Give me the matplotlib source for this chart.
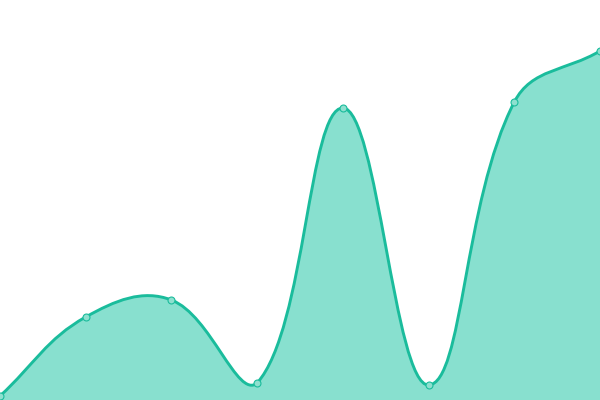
import matplotlib
matplotlib.use('Agg')
import matplotlib.pyplot as plt
from matplotlib.path import Path
from matplotlib.patches import PathPatch
import numpy as np

LINE_COLOR = '#1abc9c'
FILL_COLOR = '#88e0cf'
POINT_FACE = '#8ee0cf'

# data
labels = ['A', 'B', 'C', 'D', 'E', 'F', 'G', 'H']
values = [4, 83, 100, 17, 292, 15, 298, 349]

X_MAX = len(values) - 1
Y_MAX = 400
W_PX, H_PX = 600, 400
TENSION = 0.4


def spline_controls(xs, ys, sx, sy, t=TENSION):
    # chart.js style spline, distances measured in pixel space
    n = len(xs)
    ctrl = []
    for i in range(n):
        prev_i = max(i - 1, 0)
        next_i = min(i + 1, n - 1)
        px, py = xs[prev_i], ys[prev_i]
        cx, cy = xs[i], ys[i]
        nx, ny = xs[next_i], ys[next_i]
        d01 = np.hypot((cx - px) * sx, (cy - py) * sy)
        d12 = np.hypot((nx - cx) * sx, (ny - cy) * sy)
        s01 = d01 / (d01 + d12) if (d01 + d12) else 0
        s12 = d12 / (d01 + d12) if (d01 + d12) else 0
        fa, fb = t * s01, t * s12
        prev_ctrl = (cx - fa * (nx - px), cy - fa * (ny - py))
        next_ctrl = (cx + fb * (nx - px), cy + fb * (ny - py))
        # keep control points inside the chart area
        prev_ctrl = (min(max(prev_ctrl[0], 0), X_MAX), min(max(prev_ctrl[1], 0), Y_MAX))
        next_ctrl = (min(max(next_ctrl[0], 0), X_MAX), min(max(next_ctrl[1], 0), Y_MAX))
        ctrl.append((prev_ctrl, next_ctrl))
    return ctrl


fig = plt.figure(figsize=(6, 4), dpi=100)
fig.patch.set_facecolor('white')
ax = fig.add_axes([0, 0, 1, 1])
ax.set_xlim(0, X_MAX)
ax.set_ylim(0, Y_MAX)
ax.axis('off')

xs = list(range(len(values)))
ctrl = spline_controls(xs, values, W_PX / X_MAX, H_PX / Y_MAX)

verts = [(xs[0], values[0])]
codes = [Path.MOVETO]
for i in range(1, len(xs)):
    verts += [ctrl[i - 1][1], ctrl[i][0], (xs[i], values[i])]
    codes += [Path.CURVE4] * 3

line_path = Path(verts, codes)
fill_path = Path(verts + [(xs[-1], 0), (xs[0], 0), (xs[0], values[0])],
                 codes + [Path.LINETO, Path.LINETO, Path.CLOSEPOLY])

ax.add_patch(PathPatch(fill_path, facecolor=FILL_COLOR, edgecolor='none', zorder=1))
ax.add_patch(PathPatch(line_path, facecolor='none', edgecolor=LINE_COLOR, linewidth=2.1, zorder=2))
ax.plot(xs, values, linestyle='none', marker='o', markersize=5,
        markerfacecolor=POINT_FACE, markeredgecolor=LINE_COLOR, markeredgewidth=0.8,
        zorder=3, clip_on=True)

fig.savefig('out.png', dpi=100, facecolor='white')
plt.close()
